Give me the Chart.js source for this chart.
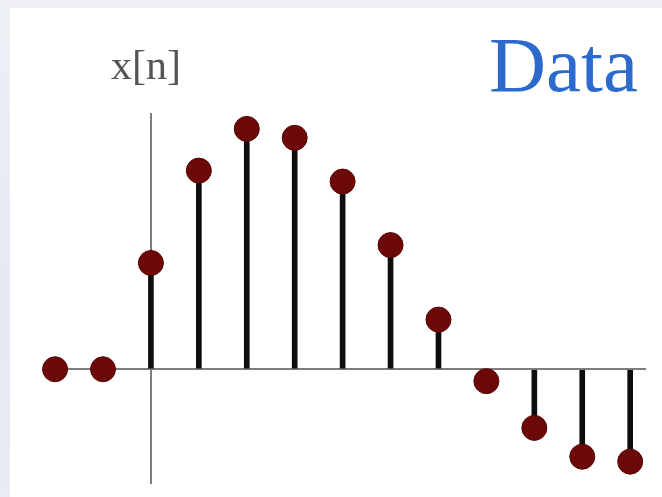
<!DOCTYPE html>
<html>
<head>
<meta charset="utf-8">
<script src="https://cdn.jsdelivr.net/npm/chart.js@4.4.1/dist/chart.umd.min.js"></script>
<style>
  html, body { margin: 0; padding: 0; }
  body {
    width: 662px; height: 497px; overflow: hidden; position: relative;
    background: linear-gradient(180deg, #eef0f6 0%, #e4e9f2 60%, #e9ecf3 100%);
  }
  .panel { position: absolute; left: 10px; top: 8px; right: 0; bottom: 0; background: #fff; }
  .wrap { position: absolute; left: 0; top: 0; width: 662px; height: 497px; }
  .lbl { position: absolute; font-family: "Liberation Serif", "DejaVu Serif", serif; white-space: nowrap; line-height: 1; }
  #ylabel { left: 111px; top: 44px; font-size: 42px; color: #555; }
  #title { left: 489px; top: 25px; font-size: 79px; color: #2d6acd; }
</style>
</head>
<body>
<div class="panel"></div>
<div class="wrap"><canvas id="c" width="662" height="497"></canvas></div>
<div class="lbl" id="ylabel">x[n]</div>
<div class="lbl" id="title">Data</div>
<script>
// sample index n and value x[n]
const sampleIndex = [-2, -1, 0, 1, 2, 3, 4, 5, 6, 7, 8, 9, 10];
const sampleValue = [0, 0, 1.07, 2.0, 2.42, 2.33, 1.89, 1.25, 0.5, -0.12, -0.59, -0.88, -0.93];

// visible extent of the two axes
const xRange = [-2.21, 10.33];
const yRange = [-1.15, 2.58];

const points = sampleIndex.map((n, i) => ({ x: n, y: sampleValue[i] }));

// show only the zero line of each scale, drawn as the axis
function zeroOnly(scale) {
  scale.ticks = [{ value: 0 }];
}
// scales take no room of their own
function noRoom(scale) {
  if (scale.isHorizontal()) scale.height = 0;
  else scale.width = 0;
}

new Chart(document.getElementById('c').getContext('2d'), {
  data: {
    datasets: [
      {
        type: 'bar',
        data: points,
        backgroundColor: '#0d0d0d',
        barThickness: 5,
        order: 2
      },
      {
        type: 'scatter',
        data: points,
        pointRadius: 12.5,
        pointHoverRadius: 12.5,
        pointBackgroundColor: '#6c0808',
        pointBorderColor: '#560404',
        pointBorderWidth: 1,
        clip: false,
        order: 1
      }
    ]
  },
  options: {
    responsive: false,
    animation: false,
    events: [],
    layout: { padding: { left: 45, right: 16, top: 113, bottom: 9 } },
    plugins: { legend: { display: false }, tooltip: { enabled: false } },
    scales: {
      x: {
        type: 'linear',
        min: xRange[0],
        max: xRange[1],
        offset: false,
        afterBuildTicks: zeroOnly,
        afterFit: noRoom,
        ticks: { display: false },
        border: { display: false },
        grid: { color: '#7d7d7d', lineWidth: 2, drawTicks: false, offset: false }
      },
      y: {
        type: 'linear',
        min: yRange[0],
        max: yRange[1],
        afterBuildTicks: zeroOnly,
        afterFit: noRoom,
        ticks: { display: false },
        border: { display: false },
        grid: { color: '#7d7d7d', lineWidth: 2, drawTicks: false }
      }
    }
  }
});
</script>
</body>
</html>
